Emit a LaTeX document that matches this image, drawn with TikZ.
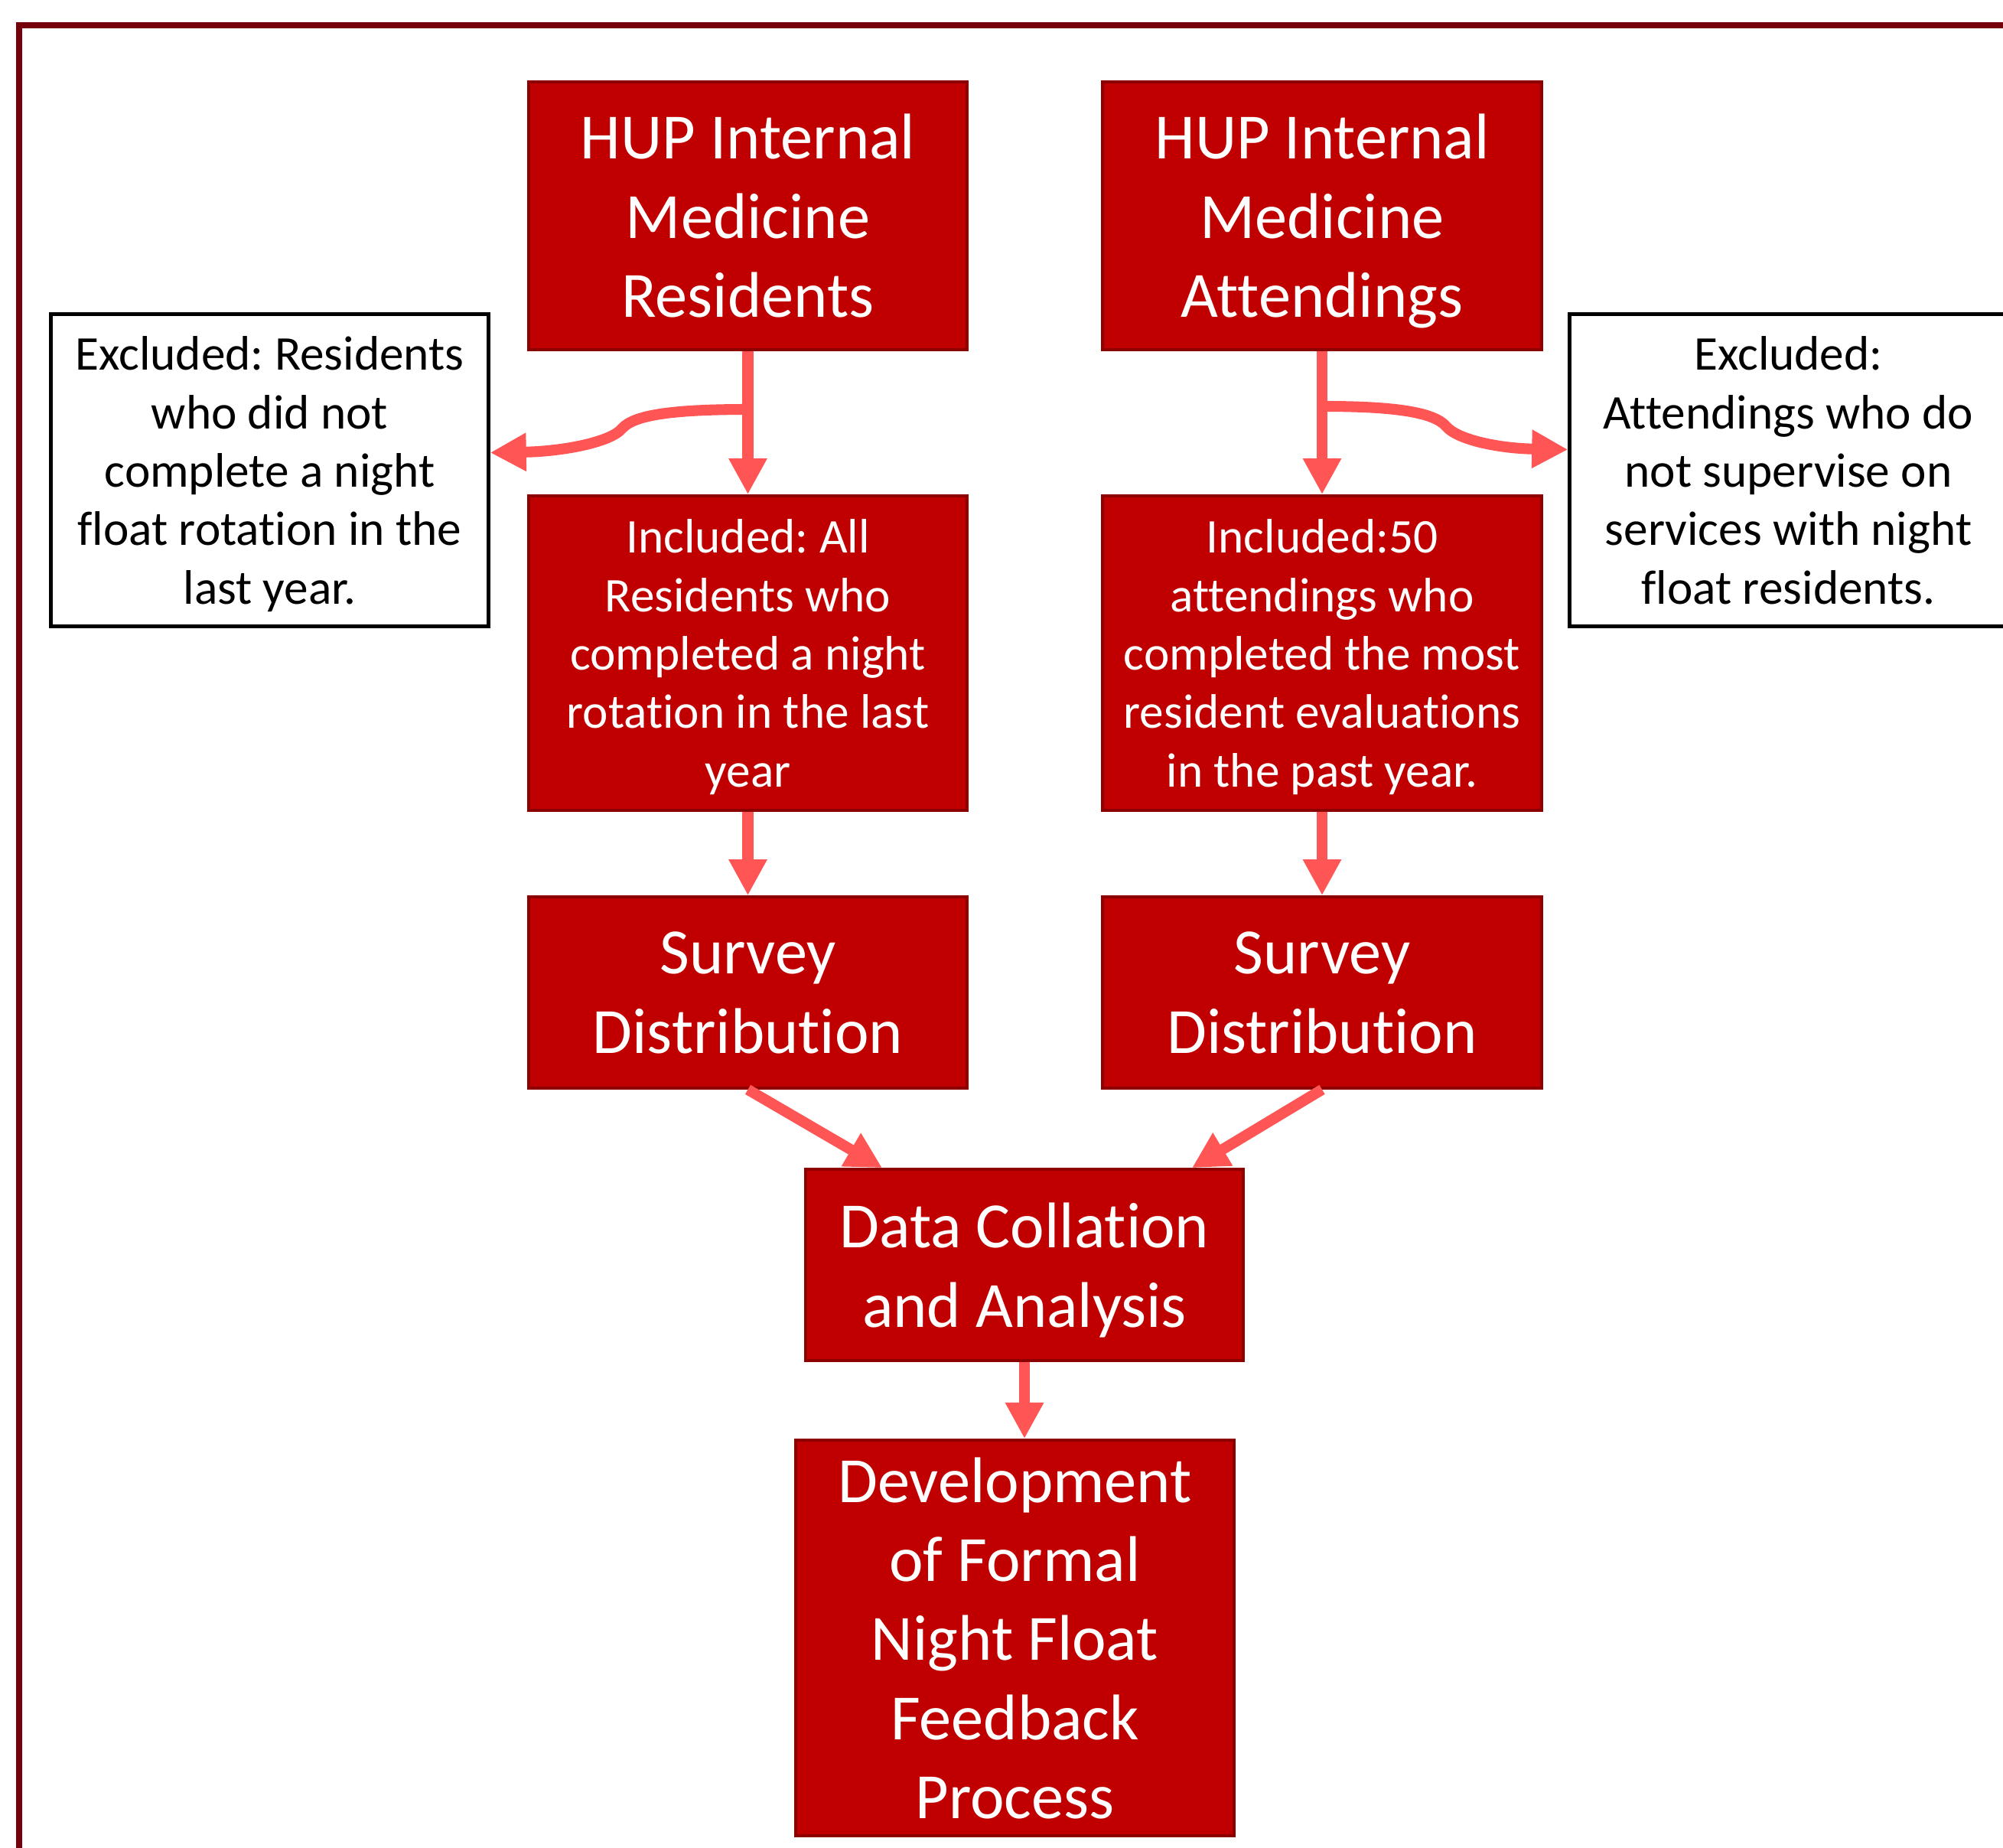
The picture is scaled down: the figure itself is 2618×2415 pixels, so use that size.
\documentclass[tikz,border=0pt]{standalone}
\usepackage{fontspec}
\setmainfont{Carlito}[Ligatures=CommonOff]
\frenchspacing
\usetikzlibrary{arrows.meta,calc}
\definecolor{boxred}{RGB}{192,0,0}
\definecolor{boxedge}{RGB}{140,0,0}
\definecolor{framec}{RGB}{118,0,12}
\definecolor{arrowc}{RGB}{255,85,85}
\tikzset{
  redbox/.style={draw=boxedge, line width=1pt, fill=boxred, text=white, align=center, inner sep=0pt,
    font=\fontsize{24}{29.4}\selectfont},
  redsmall/.style={redbox, font=\fontsize{18}{21.7}\selectfont},
  exbox/.style={draw=black, line width=1.4pt, fill=white, text=black, align=center, inner sep=0pt,
    font=\fontsize{18}{21.7}\selectfont},
  flow/.style={draw=arrowc, line width=4pt, -{Triangle[length=13.4pt,width=13.4pt]}},
}
\begin{document}
\begin{tikzpicture}[x=0.01cm,y=-0.01cm]
\useasboundingbox (0,0) rectangle (2618,2415);
\begin{scope}
\clip (0,0) rectangle (2618,2415);
\draw[framec, line width=2pt] (25,2500) -- (25,33) -- (2700,33);
\end{scope}

% boxes
\node[redbox, minimum width=5.73cm, minimum height=3.5cm] (r1) at (977.5,282) {HUP Internal\\Medicine\\\smash{Residents}};
\node[redbox, minimum width=5.74cm, minimum height=3.5cm] (a1) at (1728,282) {HUP Internal\\Medicine\\\smash{Attendings}};
\node[exbox, minimum width=5.71cm, minimum height=4.07cm] (exl) at (352.5,614.5) {Excluded: Residents\\who did not\\complete a night\\float rotation in the\\\smash{last year.}};
\node[exbox, minimum width=5.71cm, minimum height=4.07cm] (exr) at (2337.5,614.5) {Excluded:\\Attendings who do\\not supervise on\\services with night\\\smash{float residents.}};
\node[redsmall, minimum width=5.73cm, minimum height=4.11cm] (r2) at (977.5,853.5) {Included: All\\Residents who\\completed a night\\rotation in the last\\\smash{year}};
\node[redsmall, minimum width=5.74cm, minimum height=4.11cm] (a2) at (1728,853.5) {Included:50\\attendings who\\completed the most\\resident evaluations\\\smash{in the past year.}};
\node[redbox, minimum width=5.73cm, minimum height=2.5cm] (r3) at (977.5,1297) {Survey\\\smash{Distribution}};
\node[redbox, minimum width=5.74cm, minimum height=2.5cm] (a3) at (1728,1297) {Survey\\\smash{Distribution}};
\node[redbox, minimum width=5.72cm, minimum height=2.5cm] (dc) at (1339,1653) {Data Collation\\\smash{and Analysis}};
\node[redbox, minimum width=5.73cm, minimum height=5.17cm] (dev) at (1326.5,2140.5) {Development\\of Formal\\Night Float\\Feedback\\\smash{Process}};

% split points on stems
\coordinate (rsplit) at (978,535);
\coordinate (asplit) at (1730,531);
\coordinate (rbend) at (813,560);
\coordinate (abend) at (1890,557);

% connectors
\draw[flow] (r1.south) -- (r1.south |- r2.north);
\draw[flow] (a1.south) -- (a1.south |- a2.north);
\draw[flow] (rsplit) .. controls (875,535) and (828,543) .. (rbend)
  .. controls (798,578) and (735,590) .. ($(exl.east)+(0,-23)$);
\draw[flow] (asplit) .. controls (1830,531) and (1875,540) .. (abend)
  .. controls (1905,575) and (1960,586) .. ($(exr.west)+(0,-27)$);
\draw[flow] (r2.south) -- (r2.south |- r3.north);
\draw[flow] (a2.south) -- (a2.south |- a3.north);
\draw[flow] (r3.south) -- ($(dc.north west)+(102,0)$);
\draw[flow] (a3.south) -- ($(dc.north east)+(-69,0)$);
\draw[flow] (dc.south) -- (dc.south |- dev.north);
\end{tikzpicture}
\end{document}
